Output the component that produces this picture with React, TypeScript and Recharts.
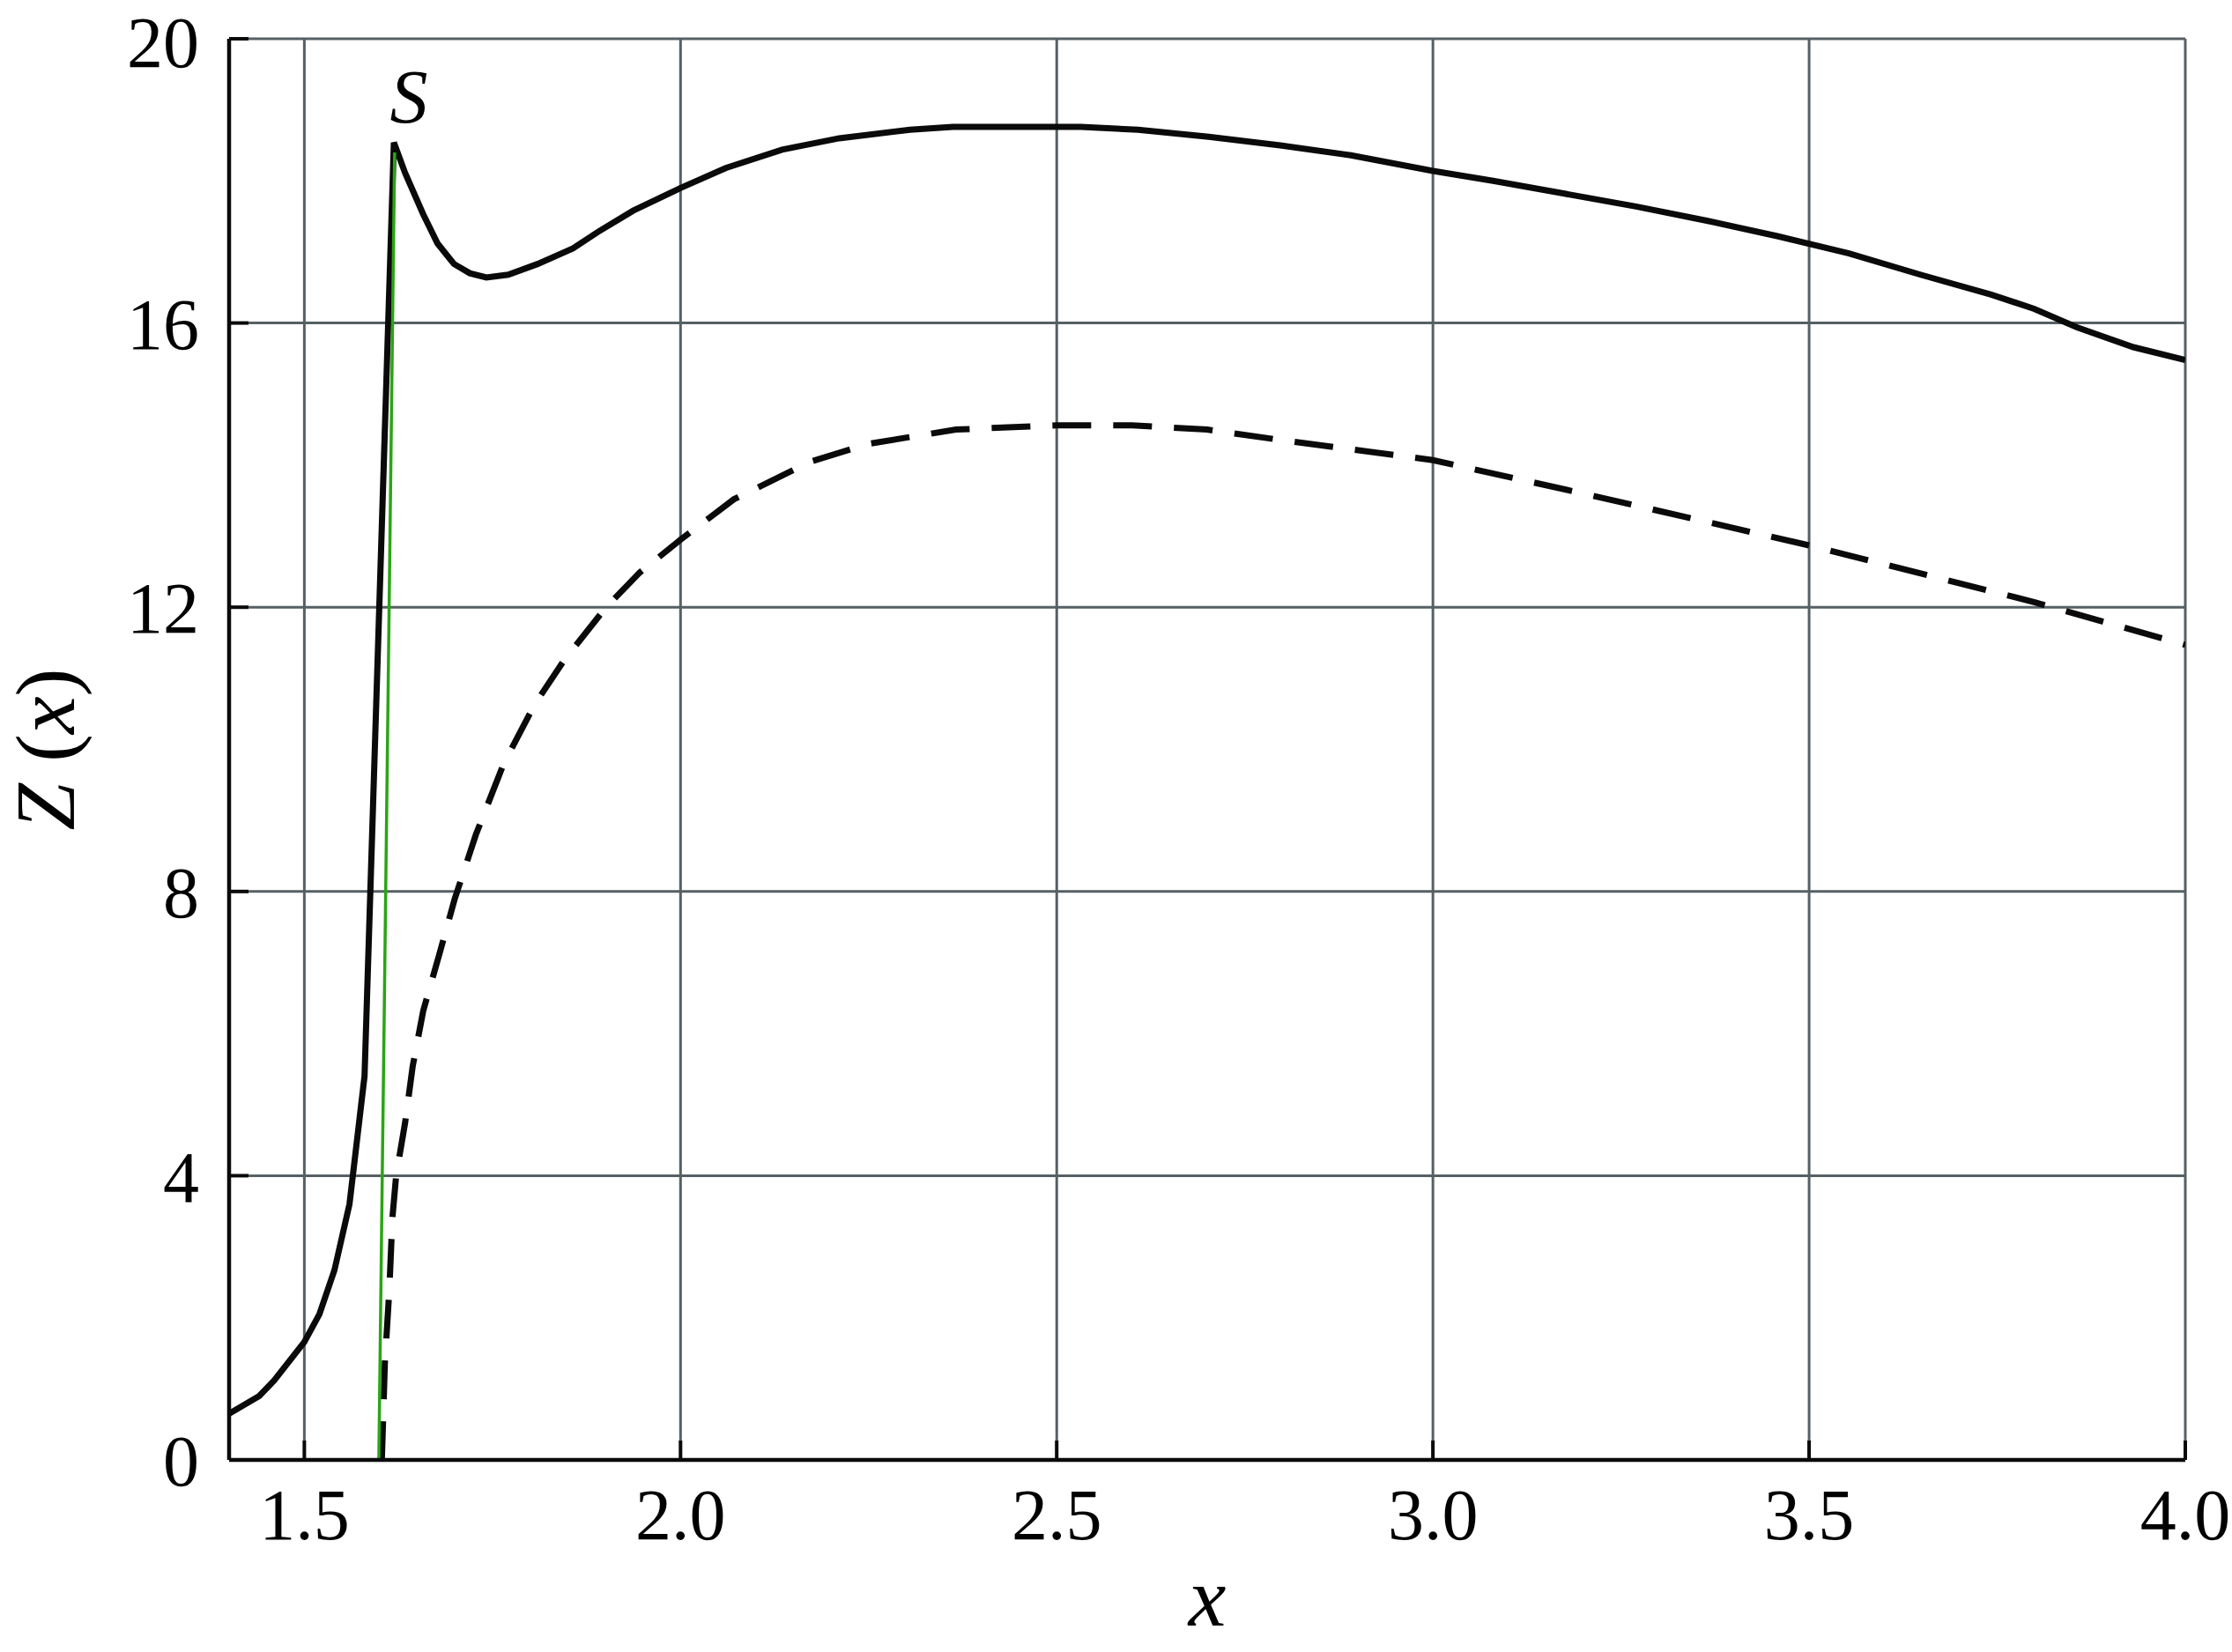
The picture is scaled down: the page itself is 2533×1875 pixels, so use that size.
import { LineChart, Line, XAxis, YAxis, CartesianGrid, ReferenceDot, Label } from 'recharts'

// Z(x), solid curve
const solidX = [1.4, 1.44, 1.46, 1.5, 1.52, 1.54, 1.56, 1.58, 1.619, 1.634, 1.658, 1.677, 1.699, 1.72, 1.742, 1.771, 1.81, 1.857, 1.89, 1.937, 2.0, 2.06, 2.135, 2.211, 2.305, 2.362, 2.532, 2.608, 2.702, 2.797, 2.891, 3.0, 3.08, 3.175, 3.27, 3.364, 3.459, 3.553, 3.648, 3.742, 3.799, 3.856, 3.931, 4.0]
const solidZ = [0.65, 0.9, 1.12, 1.66, 2.05, 2.67, 3.6, 5.4, 18.54, 18.11, 17.53, 17.12, 16.83, 16.7, 16.64, 16.68, 16.83, 17.05, 17.28, 17.58, 17.9, 18.18, 18.44, 18.6, 18.72, 18.76, 18.76, 18.72, 18.62, 18.5, 18.36, 18.14, 18.0, 17.82, 17.64, 17.44, 17.22, 16.98, 16.68, 16.4, 16.2, 15.94, 15.66, 15.48]

// dashed curve
const dashedX = [1.603, 1.607, 1.613, 1.617, 1.622, 1.634, 1.644, 1.658, 1.679, 1.7, 1.728, 1.765, 1.806, 1.845, 1.901, 1.946, 2.0, 2.071, 2.173, 2.25, 2.366, 2.5, 2.6, 2.7, 2.8, 3.0, 3.2, 3.5, 3.8, 4.0]
const dashedZ = [0, 1.36, 2.4, 3.4, 4.0, 4.75, 5.54, 6.32, 7.1, 7.9, 8.8, 9.8, 10.63, 11.25, 12.0, 12.49, 12.95, 13.52, 14.05, 14.3, 14.5, 14.56, 14.56, 14.5, 14.35, 14.07, 13.6, 12.87, 12.07, 11.47]

// green straight line up to S
const greenX = [1.599, 1.62]
const greenZ = [0, 18.4]

const xTicks = [1.5, 2.0, 2.5, 3.0, 3.5, 4.0]
const yTicks = [0, 4, 8, 12, 16, 20]

const peak = { x: 1.619, z: 18.54 }

const toPoints = (xs: number[], zs: number[]) => xs.map((x, i) => ({ x, z: zs[i] }))

const serif = "'Liberation Serif', 'Times New Roman', serif"
const tickStyle = { fontFamily: serif, fontSize: 82, fill: '#000' }
const frame = { stroke: '#0a0a0a', strokeWidth: 4.5 }
const tickMark = { stroke: '#0a0a0a', strokeWidth: 4 }

export default function App() {
  return (
    <div style={{ position: 'absolute', left: 0, top: 0, background: '#fff' }}>
      <LineChart width={2533} height={1875} margin={{ top: 44, right: 53, bottom: 68, left: 60 }}>
        <CartesianGrid stroke="#566064" strokeWidth={3} />
        <XAxis
          type="number"
          dataKey="x"
          domain={[1.4, 4.0]}
          ticks={xTicks}
          allowDataOverflow
          height={150}
          tickFormatter={(v: number) => v.toFixed(1)}
          tick={tickStyle}
          tickSize={-22}
          tickMargin={54}
          axisLine={frame}
          tickLine={tickMark}
        >
          <Label
            content={({ viewBox }: any) => (
              <text
                x={viewBox.x + viewBox.width / 2}
                y={viewBox.y + 188}
                textAnchor="middle"
                fontFamily={serif}
                fontStyle="italic"
                fontSize={96}
                fill="#000"
              >
                x
              </text>
            )}
          />
        </XAxis>
        <XAxis
          xAxisId="top"
          orientation="top"
          type="number"
          domain={[1.4, 4.0]}
          ticks={xTicks}
          allowDataOverflow
          height={0}
          tick={false}
          tickSize={-22}
          axisLine={frame}
          tickLine={tickMark}
        />
        <YAxis
          type="number"
          domain={[0, 20]}
          ticks={yTicks}
          allowDataOverflow
          width={200}
          tick={tickStyle}
          tickSize={-22}
          tickMargin={56}
          axisLine={frame}
          tickLine={tickMark}
        >
          <Label
            content={({ viewBox }: any) => {
              const cx = 84
              const cy = viewBox.y + viewBox.height / 2
              return (
                <text
                  x={cx}
                  y={cy}
                  transform={`rotate(-90, ${cx}, ${cy})`}
                  textAnchor="middle"
                  fontFamily={serif}
                  fontSize={96}
                  fill="#000"
                >
                  <tspan fontStyle="italic">Z</tspan> (<tspan fontStyle="italic">x</tspan>)
                </text>
              )
            }}
          />
        </YAxis>
        <YAxis
          yAxisId="right"
          orientation="right"
          type="number"
          domain={[0, 20]}
          ticks={yTicks}
          allowDataOverflow
          width={0}
          tick={false}
          tickSize={-22}
          axisLine={frame}
          tickLine={tickMark}
        />
        <Line
          data={toPoints(solidX, solidZ)}
          dataKey="z"
          type="linear"
          stroke="#0a0a0a"
          strokeWidth={7}
          dot={false}
          isAnimationActive={false}
        />
        <Line
          data={toPoints(dashedX, dashedZ)}
          dataKey="z"
          type="linear"
          stroke="#0a0a0a"
          strokeWidth={7}
          strokeDasharray="44 25"
          dot={false}
          isAnimationActive={false}
        />
        <Line
          data={toPoints(greenX, greenZ)}
          dataKey="z"
          type="linear"
          stroke="#2aa515"
          strokeWidth={3.5}
          dot={false}
          isAnimationActive={false}
        />
        <ReferenceDot
          x={peak.x}
          y={peak.z}
          r={1}
          fill="none"
          stroke="none"
          label={({ viewBox }: any) => (
            <text
              x={viewBox.x + 18}
              y={viewBox.y - 22}
              textAnchor="middle"
              fontFamily={serif}
              fontStyle="italic"
              fontSize={86}
              fill="#000"
            >
              S
            </text>
          )}
        />
      </LineChart>
    </div>
  )
}
